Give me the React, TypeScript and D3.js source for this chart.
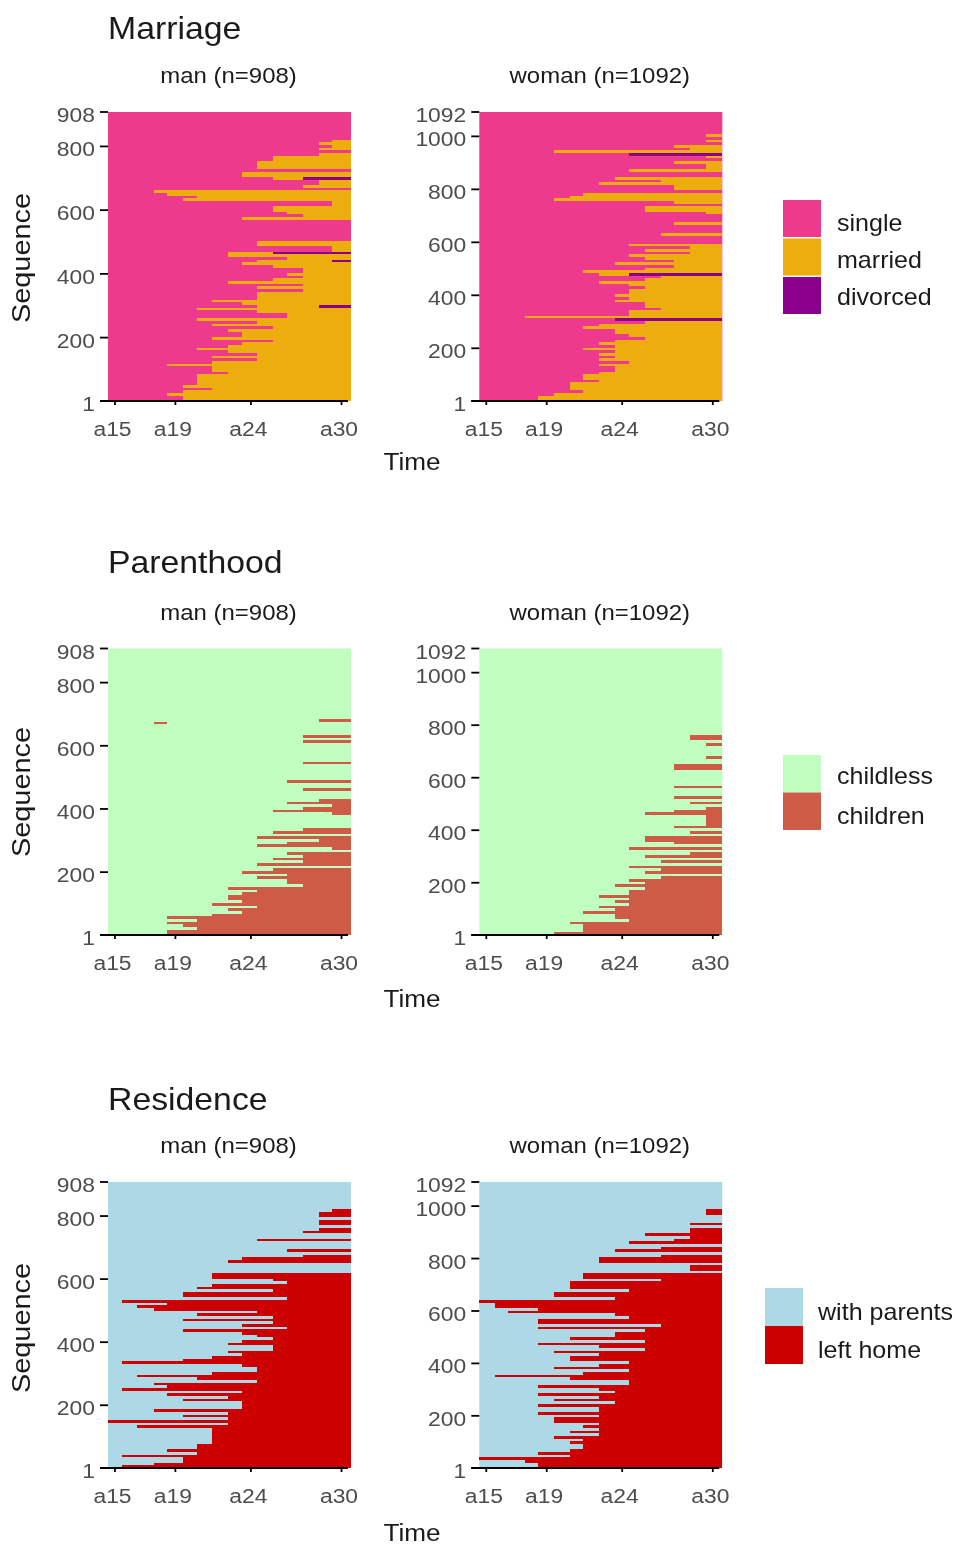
import React from "react";
import * as d3 from "d3";

type Band = [number, number];

const ages = ["a15", "a19", "a24", "a30"];
const ageValues = [15, 19, 24, 30];
const manTicks = [1, 200, 400, 600, 800, 908];
const womanTicks = [1, 200, 400, 600, 800, 1000, 1092];
const manEdges = [0, 13.7, 29.3, 45.7, 58.7, 74.7, 88.7, 104.3, 120.3, 133.7, 149.3, 165.3, 178.7, 194.7, 211, 224.3, 243];
const womanEdges = [0, 15.7, 29, 45.7, 58.3, 74.3, 90.7, 104, 120, 136, 149.3, 165.3, 181.3, 194.7, 210.7, 226.7, 242.7];

// [upper sequence of the band, age of entering the second state; 31 = never]
const marriageMan: Band[] = [[14,20],[22,19],[29,20],[38,22],[46,20],[87,21],[94,23],[106,22],[113,19],[121,22],[129,25],[136,22],[144,25],[155,23],[162,21],[171,23],[178,24],[185,26],[196,22],[221,24],[228,23],[238,26],[246,22],[254,25],[263,21],[273,27],[286,25],[294,21],[303,25],[311,24],[317,22],[343,25],[350,28],[356,25],[366,28],[375,23],[382,26],[396,28],[404,27],[422,28],[430,26],[438,24],[447,25],[457,27],[470,23],[488,30],[506,25],[566,31],[577,24],[587,28],[598,27],[608,26],[616,30],[623,30],[631,20],[642,21],[650,19],[657,18],[667,31],[675,28],[692,29],[702,26],[717,24],[731,31],[752,25],[768,26],[776,29],[785,31],[794,29],[804,30],[810,29],[825,30]];
const marriageWoman: Band[] = [[25,19],[35,20],[45,22],[73,21],[85,23],[104,22],[114,23],[127,24],[136,23],[145,25],[155,23],[165,24],[174,23],[184,24],[195,22],[205,24],[224,23],[233,24],[243,26],[253,25],[268,24],[278,22],[287,23],[297,26],[306,25],[319,18],[344,25],[356,27],[369,26],[382,24],[394,25],[407,24],[419,25],[432,26],[444,25],[451,23],[461,26],[470,27],[480,23],[489,22],[499,26],[508,28],[520,24],[529,28],[539,26],[549,25],[560,29],[570,26],[579,29],[589,25],[630,31],[640,27],[669,31],[678,28],[709,31],[719,30],[732,26],[741,31],[749,28],[760,20],[770,21],[791,22],[801,31],[813,28],[822,23],[835,27],[845,24],[863,31],[879,25],[892,30],[901,28],[908,31],[917,30],[923,31],[933,20],[942,29],[951,28],[974,31],[984,30],[993,31],[1003,30]];
// [lower sequence, upper sequence, age of entering the third state]
const divorcedMan: [number, number, number][] = [[463,470,26],[441,448,30],[298,306,29],[692,702,28]];
const divorcedWoman: [number, number, number][] = [[308,318,24],[470,485,29],[480,489,25],[923,933,25]];

const parentMan: Band[] = [[14,19],[21,21],[29,20],[37,19],[53,21],[64,19],[71,22],[79,24],[87,23],[95,25],[106,22],[114,24],[124,23],[132,24],[141,25],[156,23],[164,28],[175,27],[183,25],[191,27],[198,24],[207,26],[215,31],[223,25],[231,28],[242,26],[249,28],[256,27],[264,31],[272,30],[283,25],[291,27],[299,29],[308,25],[316,31],[325,26],[342,28],[378,31],[386,30],[394,26],[403,28],[410,30],[421,27],[428,29],[453,31],[461,28],[479,31],[488,27],[539,31],[548,28],[606,31],[615,28],[622,31],[631,28],[675,31],[684,29]];
const parentWoman: Band[] = [[12,20],[44,22],[54,21],[65,25],[82,24],[95,22],[104,24],[114,23],[123,25],[136,24],[146,25],[156,23],[169,25],[178,26],[186,24],[197,26],[207,25],[217,27],[225,31],[239,26],[249,27],[260,25],[270,31],[282,27],[292,31],[301,26],[311,29],[330,31],[340,25],[349,31],[358,28],[381,26],[391,31],[401,29],[411,31],[421,28],[453,30],[463,26],[473,28],[482,30],[492,31],[504,29],[523,31],[533,28],[555,31],[565,28],[635,31],[646,28],[675,31],[686,30],[717,31],[727,30],[746,31],[758,29]];
// [lower sequence, upper sequence, first age, age after the last]
const parentManSpells: [number, number, number, number][] = [[666,675,18,19]];

const homeMan: Band[] = [[9,16],[17,18],[34,20],[44,16],[52,21],[59,19],[78,21],[126,22],[134,17],[142,23],[151,15],[158,23],[165,20],[178,23],[186,18],[211,24],[222,20],[230,23],[237,19],[246,24],[253,16],[261,19],[269,18],[280,25],[285,21],[298,17],[306,22],[322,25],[333,24],[340,16],[349,20],[356,22],[365,24],[373,23],[388,26],[398,23],[407,24],[418,26],[428,25],[433,24],[442,20],[449,27],[458,24],[465,26],[476,20],[484,26],[494,21],[503,25],[511,18],[518,17],[526,19],[536,16],[545,27],[561,20],[570,26],[577,21],[587,22],[596,27],[603,26],[619,22],[654,31],[663,23],[672,24],[680,28],[688,31],[697,27],[720,31],[731,25],[746,31],[757,28],[765,29],[773,31],[791,29],[796,31],[815,29],[823,30]];
const homeWoman: Band[] = [[21,19],[30,18],[43,15],[52,21],[62,19],[72,21],[91,22],[100,21],[113,22],[123,20],[132,23],[142,21],[151,23],[164,22],[174,23],[195,20],[202,23],[214,19],[231,23],[246,19],[256,24],[265,20],[278,23],[287,19],[297,24],[307,23],[316,19],[335,25],[345,21],[357,16],[367,22],[377,25],[388,20],[398,23],[409,25],[428,21],[439,23],[448,20],[458,26],[468,23],[478,19],[489,26],[500,21],[519,24],[529,26],[538,19],[548,27],[570,19],[580,25],[589,24],[599,17],[609,19],[631,16],[640,15],[650,24],[672,20],[682,25],[712,21],[722,27],[741,22],[758,31],[773,29],[786,31],[802,23],[815,27],[824,31],[836,24],[846,27],[856,31],[866,25],[875,28],[885,29],[896,26],[912,29],[928,31],[938,29],[966,31],[986,30]];

const marriageStates = ["single", "married", "divorced"];
const marriageColors = ["#EE3A8C", "#EEAD0E", "#8B008B"];
const parentStates = ["childless", "children"];
const parentColors = ["#C1FFC1", "#CD5B45"];
const homeStates = ["with parents", "left home"];
const homeColors = ["#ADD8E6", "#CD0000"];

const FONT = "'Liberation Sans', Arial, sans-serif";
const XS = 1.09;
const RASTER = 8 / 3;

function T({ x, y, size, fill, anchor = "start", rotate = 0, children }: any) {
  const tf = rotate
    ? `translate(${x},${y}) rotate(${rotate}) scale(${XS * 1.02},1)`
    : `translate(${x},${y}) scale(${XS},1)`;
  return (
    <text transform={tf} fontFamily={FONT} fontSize={size} fill={fill} textAnchor={anchor}>
      {children}
    </text>
  );
}

function Panel({ left, top, bottom, n, label, ticks, edges, bands, colors, divorced = [], spells = [] }: any) {
  const width = 243;
  const x = d3.scaleLinear().domain(d3.range(15, 32)).range(edges.map((e: number) => left + e));
  const xTick = d3.scaleLinear().domain([15, 30]).range([left + 7, left + 233.5]);
  const y = d3.scaleLinear().domain([1, n]).range([bottom, top]);
  // the reference was rasterised coarsely: sequence rows sit on a grid of about 2.7px
  const snap = (v: number) => bottom - Math.round((bottom - y(v)) / RASTER) * RASTER;
  let prev = bottom;
  const rects = (bands as Band[]).map(([hi, age]) => {
    const yLo = prev;
    let yHi = snap(hi);
    if (yHi >= yLo - 0.1) yHi = yLo - RASTER;
    prev = yHi;
    return { yLo, yHi, age };
  }).filter((b) => b.age < 31);
  const bar = (lo: number, hi: number) => {
    const yHi = snap(hi);
    return { y: yHi, height: Math.max(RASTER, snap(lo) - yHi) };
  };
  return (
    <g>
      <rect x={left} y={top} width={width} height={bottom - top} fill={colors[0]} />
      {rects.map((b, i) => (
        <rect key={i} x={x(b.age)} y={b.yHi} width={x(31) - x(b.age)} height={b.yLo - b.yHi} fill={colors[1]} shapeRendering="crispEdges" />
      ))}
      {spells.map(([lo, hi, a, e]: number[], i: number) => (
        <rect key={"s" + i} x={x(a)} width={x(e) - x(a)} {...bar(lo, hi)} fill={colors[1]} shapeRendering="crispEdges" />
      ))}
      {divorced.map(([lo, hi, a]: number[], i: number) => (
        <rect key={"d" + i} x={x(a)} width={x(31) - x(a)} {...bar(lo, hi)} fill={colors[2]} shapeRendering="crispEdges" />
      ))}
      <T x={left + width / 2 - 1} y={top - 29} size={22} fill="#1a1a1a" anchor="middle">{label}</T>
      {ticks.map((t: number) => (
        <g key={t}>
          <line x1={left - 8} x2={left} y1={y(t)} y2={y(t)} stroke="#000" strokeWidth={1.8} />
          <T x={left - 13} y={y(t) + 10} size={21} fill="#4d4d4d" anchor="end">{t}</T>
        </g>
      ))}
      <line x1={left - 8} x2={left + width - 3} y1={bottom} y2={bottom} stroke="#000" strokeWidth={2} />
      {ageValues.map((a, i) => (
        <g key={a}>
          <line x1={xTick(a)} x2={xTick(a)} y1={bottom} y2={bottom + 4} stroke="#000" strokeWidth={1.8} />
          <T x={xTick(a) - 2.5} y={bottom + 34.5} size={21} fill="#4d4d4d" anchor="middle">{ages[i]}</T>
        </g>
      ))}
    </g>
  );
}

function Legend({ x, labelX, y0, size, gap, states, colors, labelYs }: any) {
  return (
    <g>
      {states.map((s: string, i: number) => (
        <g key={s}>
          <rect x={x} y={y0 + i * gap} width={38} height={size} fill={colors[i]} />
          <T x={labelX} y={labelYs[i]} size={23} fill="#1a1a1a">{s}</T>
        </g>
      ))}
    </g>
  );
}

function Row({ title, titleY, top, bottom, seqY, timeY, manBands, womanBands, colors, divM, divW, spells }: any) {
  return (
    <g>
      <T x={108} y={titleY} size={31} fill="#1a1a1a">{title}</T>
      <Panel left={108} top={top} bottom={bottom} n={908} label="man (n=908)" ticks={manTicks} edges={manEdges} bands={manBands} colors={colors} divorced={divM} spells={spells} />
      <Panel left={479.3} top={top} bottom={bottom} n={1092} label="woman (n=1092)" ticks={womanTicks} edges={womanEdges} bands={womanBands} colors={colors} divorced={divW} />
      <T x={30} y={seqY} size={26} fill="#1a1a1a" anchor="middle" rotate={-90}>Sequence</T>
      <T x={412} y={timeY} size={24} fill="#1a1a1a" anchor="middle">Time</T>
    </g>
  );
}

export default function App() {
  return (
    <svg width={955} height={1547} style={{ position: "absolute", left: 0, top: 0, filter: "blur(0.6px)" }}>
      <rect width={955} height={1547} fill="#fff" />
      <Row title="Marriage" titleY={39} top={112} bottom={401} seqY={258} timeY={470} manBands={marriageMan} womanBands={marriageWoman} colors={marriageColors} divM={divorcedMan} divW={divorcedWoman} />
      <Row title="Parenthood" titleY={573} top={648.5} bottom={935} seqY={792} timeY={1007} manBands={parentMan} womanBands={parentWoman} colors={parentColors} spells={parentManSpells} />
      <Row title="Residence" titleY={1110} top={1182} bottom={1468} seqY={1328} timeY={1541} manBands={homeMan} womanBands={homeWoman} colors={homeColors} />
      <Legend x={783} labelX={837} y0={200} size={37} gap={38.5} states={marriageStates} colors={marriageColors} labelYs={[231, 268, 305]} />
      <Legend x={783} labelX={837} y0={755} size={37.5} gap={37.5} states={parentStates} colors={parentColors} labelYs={[784, 824]} />
      <Legend x={765} labelX={818} y0={1288} size={38} gap={38} states={homeStates} colors={homeColors} labelYs={[1320, 1358]} />
    </svg>
  );
}
